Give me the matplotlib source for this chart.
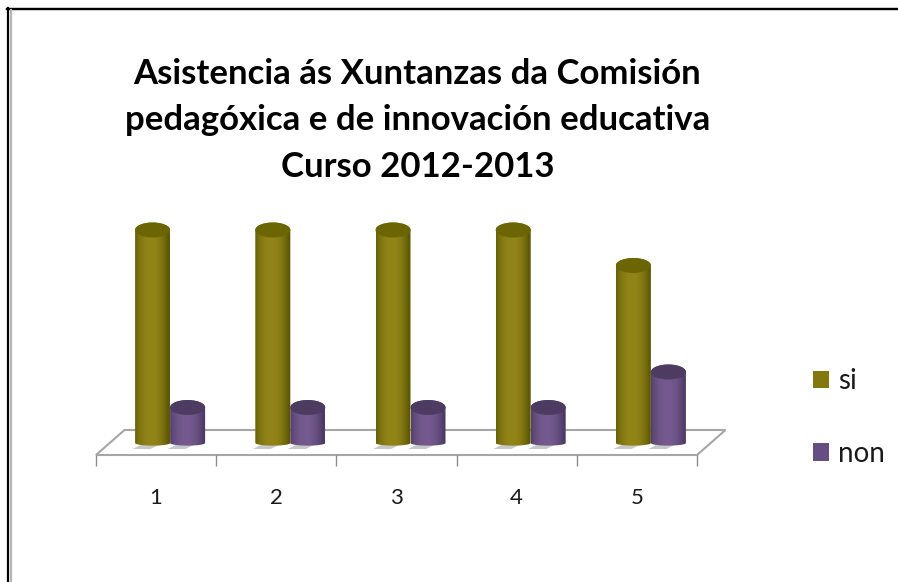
import numpy as np
import matplotlib
matplotlib.use("Agg")
import matplotlib.pyplot as plt
from matplotlib.patches import PathPatch, Ellipse, Polygon, Patch
from matplotlib.path import Path
from matplotlib.transforms import offset_copy
from matplotlib.lines import Line2D

title = "Asistencia ás Xuntanzas da Comisión\npedagóxica e de innovación educativa\nCurso 2012-2013"
categories = ["1", "2", "3", "4", "5"]
si = [6, 6, 6, 6, 5]
non = [1, 1, 1, 1, 2]

W, H = 898, 582
plt.rcParams["font.family"] = ["Lato", "DejaVu Sans"]
fig = plt.figure(figsize=(W / 100, H / 100), dpi=100, facecolor="white")

L, R, B, T = 96, 697, 455, 190
PX_Y = 35.5
ax = fig.add_axes([L / W, 1 - B / H, (R - L) / W, (B - T) / H])
ax.patch.set_alpha(0)
x_pos = np.arange(1, len(categories) + 1)
xlim = (0.5, len(categories) + 0.5)
ylim = (0, (B - T) / PX_Y)
PX_X = (R - L) / (xlim[1] - xlim[0])

# offset of the chart's back plane (pseudo 3D)
tr = offset_copy(ax.transData, fig=fig, x=14, y=12, units="dots")

# floor
DX, DY = 28.5, 25
floor_x = [xlim[0], xlim[1], xlim[1] + DX / PX_X, xlim[0] + DX / PX_X]
floor_y = [0, 0, DY / PX_Y, DY / PX_Y]
ax.add_patch(Polygon(np.column_stack([floor_x, floor_y]), closed=True, fc="white",
                     ec="#a6a6a6", lw=1.5, clip_on=False, zorder=1))

BW = 35 / PX_X
RX = BW / 2
RY = 7.5 / PX_Y


def shade(edge, mid):
    edge = np.array(matplotlib.colors.to_rgb(edge))
    mid = np.array(matplotlib.colors.to_rgb(mid))
    t = np.linspace(-1, 1, 64)
    k = (1 - np.abs(t + 0.1) ** 2.2).clip(0, 1)[:, None]
    return (edge + (mid - edge) * k)[None, :, :]


def cylinder(xc, v, edge, mid, top, z):
    th = np.linspace(np.pi, 2 * np.pi, 40)
    bx = xc + RX * np.cos(th)
    by = RY * np.sin(th) * 0.35
    tx = xc + RX * np.cos(th - np.pi)
    ty = v + RY * np.sin(th - np.pi)
    verts = np.column_stack([np.r_[bx, tx], np.r_[by, ty]])
    verts = np.vstack([verts, verts[0]])
    path = Path(verts, closed=True)
    # shadow on the floor
    ax.add_patch(Polygon([[xc - 20 / PX_X, -6 / PX_Y], [xc - 2 / PX_X, -6 / PX_Y],
                          [xc + 6 / PX_X, -2 / PX_Y], [xc - 12 / PX_X, -2 / PX_Y]],
                         closed=True, fc="#c8c8c8", ec="none", transform=tr,
                         clip_on=False, zorder=z - 0.5))
    im = ax.imshow(shade(edge, mid), extent=[xc - RX, xc + RX, -RY, v + RY], aspect="auto",
                   transform=tr, zorder=z, interpolation="bilinear")
    clip = PathPatch(path, transform=tr, fc="none", ec="none")
    ax.add_patch(clip)
    im.set_clip_path(clip)
    ax.add_patch(Ellipse((xc, v), 2 * RX, 2 * RY, transform=tr, fc=top, ec="none",
                         zorder=z + 0.1, clip_on=False))


for x, a, b in zip(x_pos, si, non):
    cylinder(x - RX, a, "#5e5804", "#918418", "#6c6503", 3)
    cylinder(x + RX, b, "#4c3a65", "#745a8e", "#4e3b62", 4)

ax.set_xlim(*xlim)
ax.set_ylim(*ylim)
ax.set_xticks(x_pos, categories)
ax.set_xticks(np.arange(xlim[0], xlim[1] + 0.5), minor=True)
ax.tick_params(axis="x", which="major", length=0, pad=24, labelsize=16, labelcolor="#1a1a1a")
ax.tick_params(axis="x", which="minor", length=8, width=1, color="#8c8c8c")
ax.set_yticks([])
for name, sp in ax.spines.items():
    sp.set_visible(False)

fig.text(417.5 / W, 1 - 120.5 / H, title, ha="center", va="center", fontsize=25,
         fontweight="bold", color="black", linespacing=1.57)

handles = [Patch(fc="#84770f", ec="none", label="si"), Patch(fc="#664e82", ec="none", label="non")]
fig.legend(handles=handles, loc="center left", bbox_to_anchor=(813 / W, 1 - 417.5 / H), frameon=False,
           fontsize=20, labelspacing=1.66, handlelength=0.58, handleheight=0.6, handletextpad=0.32,
           labelcolor="#1a1a1a", borderpad=0, borderaxespad=0)

# surrounding frame
for xs, ys, c, lw in [([8, 8], [8, H], "black", 2.2), ([7, W], [9, 9], "black", 2.4),
                      ([10.8, 10.8], [10, H], "#b5b5b5", 2.2)]:
    fig.add_artist(Line2D([x / W for x in xs], [1 - y / H for y in ys], color=c, lw=lw * 0.72))

fig.savefig("out.png", dpi=100)
